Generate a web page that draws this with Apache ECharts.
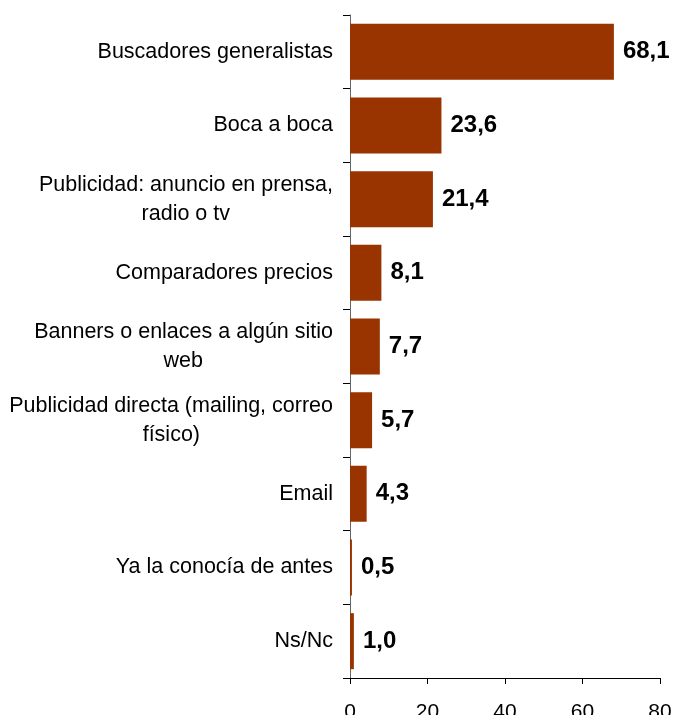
<!DOCTYPE html>
<html>
<head>
<meta charset="utf-8">
<script src="https://cdn.jsdelivr.net/npm/echarts@6/dist/echarts.min.js"></script>
<style>
  html, body { margin: 0; padding: 0; background: #fff; }
  #chart { width: 673px; height: 715px; }
</style>
</head>
<body>
<div id="chart"></div>
<script>
// Source categories (top to bottom) and their percentages
const categories = [
  'Buscadores generalistas',
  'Boca a boca',
  'Publicidad: anuncio en prensa,\nradio o tv',
  'Comparadores precios',
  'Banners o enlaces a algún sitio\nweb',
  'Publicidad directa (mailing, correo\nfísico)',
  'Email',
  'Ya la conocía de antes',
  'Ns/Nc'
];
const values = [68.1, 23.6, 21.4, 8.1, 7.7, 5.7, 4.3, 0.5, 1.0];
const xTicks = [0, 20, 40, 60, 80];

const FONT = '"Liberation Sans", Arial, sans-serif';
const LABEL_SIZE = 21.5;
const LINE_H = 29;

// Wrapped category labels: lines are right-aligned, so each shorter line is
// padded on the right by half the difference to the widest line, which
// centres all lines on each other.
const measureCtx = document.createElement('canvas').getContext('2d');
measureCtx.font = LABEL_SIZE + 'px ' + FONT;
const rich = {};
const labelText = {};
categories.forEach((c, i) => {
  const lines = c.split('\n');
  if (lines.length < 2) return;
  const widths = lines.map(l => measureCtx.measureText(l).width);
  const maxW = Math.max(...widths);
  labelText[c] = lines.map((l, j) => {
    const key = 'c' + i + 'l' + j;
    rich[key] = {
      fontFamily: FONT, fontSize: LABEL_SIZE, lineHeight: LINE_H, color: '#000',
      padding: [0, Math.round((maxW - widths[j]) / 2), 0, 0]
    };
    return '{' + key + '|' + l + '}';
  }).join('\n');
});

const chart = echarts.init(document.getElementById('chart'));
chart.setOption({
  animation: false,
  backgroundColor: '#ffffff',
  grid: {
    left: 350, right: 13, top: 15, bottom: 37,
    containLabel: false, outerBoundsMode: 'none'
  },
  xAxis: {
    type: 'value',
    min: xTicks[0],
    max: xTicks[xTicks.length - 1],
    interval: 20,
    splitLine: { show: false },
    axisLine: { show: true, lineStyle: { color: '#000', width: 1 } },
    axisTick: { show: true, length: 6, lineStyle: { color: '#000' } },
    axisLabel: {
      margin: 24,
      fontFamily: FONT,
      fontSize: 21,
      color: '#000'
    }
  },
  yAxis: {
    type: 'category',
    inverse: true,
    data: categories,
    axisLine: { show: true, lineStyle: { color: '#666', width: 1 } },
    axisTick: { show: true, length: 7, lineStyle: { color: '#000' } },
    axisLabel: {
      margin: 17,
      fontFamily: FONT,
      fontSize: LABEL_SIZE,
      lineHeight: LINE_H,
      color: '#000',
      align: 'right',
      rich: rich,
      formatter: v => labelText[v] || v
    }
  },
  series: [{
    type: 'bar',
    data: values,
    barWidth: 56,
    itemStyle: { color: '#993300' },
    label: {
      show: true,
      position: 'right',
      distance: 9,
      fontFamily: FONT,
      fontSize: 24,
      fontWeight: 'bold',
      color: '#000',
      formatter: p => p.value.toFixed(1).replace('.', ',')
    }
  }]
});
</script>
</body>
</html>
